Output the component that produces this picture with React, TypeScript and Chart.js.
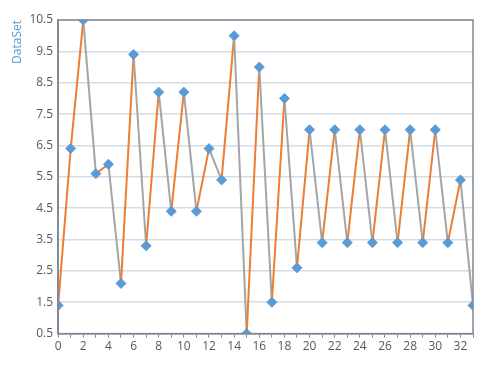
import React, { useEffect, useRef } from "react";
import { Chart, registerables } from "chart.js";

Chart.register(...registerables);

const xValues: number[] = [0,1,2,3,4,5,6,7,8,9,10,11,12,13,14,15,16,17,18,19,20,21,22,23,24,25,26,27,28,29,30,31,32,33];
const yValues: number[] = [1.4,6.4,10.5,5.6,5.9,2.1,9.4,3.3,8.2,4.4,8.2,4.4,6.4,5.4,10.0,0.5,9.0,1.5,8.0,2.6,7.0,3.4,7.0,3.4,7.0,3.4,7.0,3.4,7.0,3.4,7.0,3.4,5.4,1.4];
const yTicks: number[] = [0.5,1.5,2.5,3.5,4.5,5.5,6.5,7.5,8.5,9.5,10.5];
const xTicks: number[] = [0,1,2,3,4,5,6,7,8,9,10,11,12,13,14,15,16,17,18,19,20,21,22,23,24,25,26,27,28,29,30,31,32,33];
const yTitle = "DataSet";

const UP = "#ED7D31";
const DOWN = "#A5A5A5";
const AXIS = "#7f8896";

const frame = {
  id: "frame",
  afterDraw(chart: any) {
    const { ctx, chartArea: a } = chart;
    ctx.save();
    ctx.strokeStyle = AXIS;
    ctx.lineWidth = 1.5;
    ctx.strokeRect(a.left, a.top, a.right - a.left, a.bottom - a.top);
    ctx.restore();
  },
};

export default function App() {
  const ref = useRef<HTMLCanvasElement>(null);
  useEffect(() => {
    document.body.style.margin = "0";
    const chart = new Chart(ref.current!, {
      type: "line",
      data: {
        datasets: [
          {
            data: xValues.map((x, i) => ({ x, y: yValues[i] })),
            borderWidth: 2,
            borderColor: UP,
            segment: {
              borderColor: (c: any) => (c.p1.parsed.y >= c.p0.parsed.y ? UP : DOWN),
            },
            pointStyle: "rectRot",
            pointRadius: 5,
            pointBackgroundColor: "#5B9BD5",
            pointBorderColor: "#5B9BD5",
            pointBorderWidth: 1,
            tension: 0,
          },
        ],
      },
      options: {
        animation: false,
        responsive: false,
        maintainAspectRatio: false,
        layout: { padding: { top: 20, right: 18, bottom: 22, left: 10 } },
        plugins: { legend: { display: false }, tooltip: { enabled: false } },
        scales: {
          x: {
            type: "linear",
            min: 0,
            max: 33,
            afterBuildTicks: (s: any) => {
              s.ticks = xTicks.map((v) => ({ value: v }));
            },
            ticks: {
              autoSkip: false,
              maxRotation: 0,
              color: "#595959",
              font: { family: "Open Sans", size: 12 },
              callback: (v: any) => (Number(v) % 2 === 0 ? String(v) : ""),
              padding: 2,
            },
            grid: { drawOnChartArea: false, drawTicks: true, tickLength: 4, color: AXIS },
            border: { color: AXIS, width: 1.5 },
          },
          y: {
            type: "linear",
            min: 0.5,
            max: 10.5,
            afterBuildTicks: (s: any) => {
              s.ticks = yTicks.map((v) => ({ value: v }));
            },
            ticks: {
              color: "#595959",
              font: { family: "Open Sans", size: 12 },
              callback: (v: any) => Number(v).toFixed(1),
              padding: 5,
            },
            grid: { color: "#d6dbe4", lineWidth: 1.5, drawTicks: false },
            border: { color: AXIS, width: 1.5 },
            title: {
              display: true,
              text: yTitle,
              align: "end",
              color: "#5B9BD5",
              font: { family: "Open Sans", size: 12 },
              padding: { top: 0, bottom: 0 },
            },
          },
        },
      },
      plugins: [frame],
    });
    return () => chart.destroy();
  }, []);
  return (
    <div style={{ position: "absolute", left: 0, top: 0, width: 491, height: 378 }}>
      <canvas ref={ref} width={491} height={378} />
    </div>
  );
}
